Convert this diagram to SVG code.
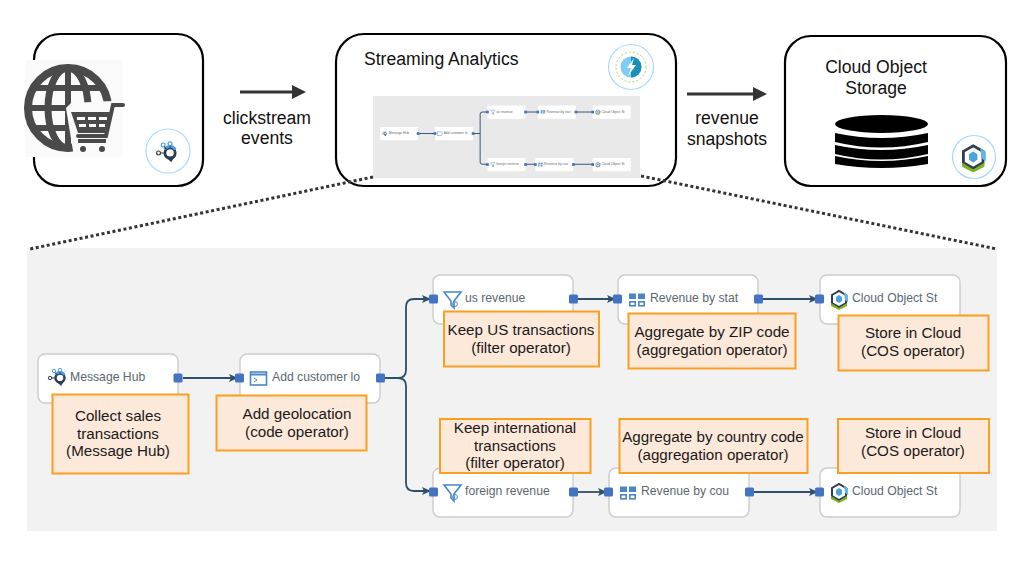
<svg xmlns="http://www.w3.org/2000/svg" xmlns:xlink="http://www.w3.org/1999/xlink" width="1028" height="566" viewBox="0 0 1028 566">
<style>
text{font-family:"Liberation Sans",Arial,sans-serif}
.box{fill:#fff;stroke:#000;stroke-width:2.2}
.t{font-size:17.6px;fill:#111;text-anchor:middle}
.c{font-size:15.2px;fill:#1a1a1a;text-anchor:middle}
.call{fill:#fde9da;stroke:#f9a023;stroke-width:2}
.op{fill:#fff;stroke:#ccc;stroke-width:1.4}
.n{font-size:12.2px;fill:#5a6872}
.port{fill:#4472c4}
.wire{fill:none;stroke:#2f4f6a;stroke-width:1.8}
.flow{stroke:#333;stroke-width:3;fill:none}
.dot{stroke:#333;stroke-width:3;stroke-dasharray:3 2.6;fill:none}
.ico{fill:none;stroke:#4a86c8;stroke-width:1.6}
.badge{fill:#fff;stroke:#a6d8ff;stroke-width:1.2}
.mn{font-size:12.2px;fill:#5a6872}
</style>
<defs>
<marker id="wa" markerWidth="10" markerHeight="10" refX="8" refY="4" orient="auto" markerUnits="userSpaceOnUse"><path d="M0 0L9 4L0 8L2 4Z" fill="#2f4f6a"/></marker>
<marker id="fa" markerWidth="16" markerHeight="16" refX="1" refY="7" orient="auto" markerUnits="userSpaceOnUse"><path d="M0 0L14 7L0 14Z" fill="#333"/></marker>
<g id="i-funnel"><path class="ico" d="M0-7H17L10 2V9L7 6V2Z"/><circle cx="11" cy="5" r="2.4" fill="none" stroke="#4a86c8"/></g>
<g id="i-agg"><g fill="#4a86c8"><rect x="0" y="-6.500" width="7" height="5.500"/><rect x="9" y="-6.500" width="7" height="5.500"/></g><g class="ico"><rect x="0.800" y="1.800" width="5.400" height="4"/><rect x="9.800" y="1.800" width="5.400" height="4"/></g></g>
<g id="i-cos"><path d="M1-4L8-8L15-4V4L8 8L1 4Z" fill="none" stroke="#2d3e50" stroke-width="2"/><path d="M0 4L8 9L16 4V7L8 11L0 7Z" fill="#7ab51d"/><path d="M5-2L8-4L11-2V2L8 4L5 2Z" fill="#4aa3df"/><path d="M13-6L17-4V3L14 1Z" fill="#63b4ec"/></g>
<g id="i-hub"><circle cx="7" cy="0" r="4.500" fill="none" stroke="#2d3e50" stroke-width="2.400"/><path d="M3 3L8 8L11 3Z" fill="#2d3e50"/><path d="M2.600-3A5 5 0 0 1 11.500-3" fill="none" stroke="#4a9fe8" stroke-width="2.400"/><g fill="none" stroke-width="1"><circle cx="1" cy="-7" r="1.700" stroke="#4a9fe8"/><circle cx="7" cy="-8" r="1.700" stroke="#4a9fe8"/><circle cx="-3" cy="0" r="1.700" stroke="#2d3e50"/></g><path d="M-1 0H2M2-5.500L4-3M7-6V-4.500" stroke="#2d3e50" stroke-width="1"/></g>
</defs>

<g id="detail-panel"><rect x="27" y="248" width="970" height="283" fill="#f2f2f2"/></g>

<g id="connectors">
<path class="flow" d="M240 92H293" marker-end="url(#fa)"/>
<path class="flow" d="M687 94H754" marker-end="url(#fa)"/>
<path class="wire" d="M183 378H237" marker-end="url(#wa)"/>
<path class="wire" d="M383 378H398Q406 378 406 370V307Q406 299 414 299H430" marker-end="url(#wa)"/>
<path class="wire" d="M398 378Q406 378 406 386V483Q406 491 414 491H430" marker-end="url(#wa)"/>
<path class="wire" d="M578 299H615" marker-end="url(#wa)"/>
<path class="wire" d="M763 299H817" marker-end="url(#wa)"/>
<path class="wire" d="M578 492H606" marker-end="url(#wa)"/>
<path class="wire" d="M754 492H817" marker-end="url(#wa)"/>
</g>

<g id="source">
<rect class="box" x="34" y="34" width="169" height="152" rx="26"/>
<rect x="25" y="60" width="98" height="97" fill="#fafafa"/>
<g fill="none" stroke="#4a4a4a">
<circle cx="68" cy="108" r="40" stroke-width="8"/>
<ellipse cx="68" cy="108" rx="20" ry="40" stroke-width="7"/>
<path d="M68 68V148M32 88H104M28 108H108M32 128H104" stroke-width="6"/>
</g>
<path d="M66 108L71 103L112 101L123 104V157H74Z" fill="#fafafa"/>
<path d="M123 105H113L106 136H78" fill="none" stroke="#4a4a4a" stroke-width="4" stroke-linecap="round"/>
<path d="M71 112H110L105 133H78Z" fill="#4a4a4a"/>
<path d="M77 117H85V120H77ZM88 117H96V120H88ZM99 117H107V120H99ZM79 124H86V127H79ZM89 124H96V127H89ZM99 124H105V127H99Z" fill="#fafafa"/>
<path d="M78 139H106V143H78Z" fill="#4a4a4a"/>
<circle cx="83" cy="149" r="3" fill="#4a4a4a"/><circle cx="102" cy="149" r="3" fill="#4a4a4a"/>
<circle class="badge" cx="168" cy="151" r="22"/>
<use href="#i-hub" xlink:href="#i-hub" transform="translate(162,153) scale(1.150)"/>
</g>

<g id="streaming">
<rect class="box" x="336" y="34" width="340" height="152" rx="28"/>
<text x="364" y="65" font-size="17.600" fill="#111">Streaming Analytics</text>
<circle class="badge" cx="631" cy="67" r="22.500"/>
<circle cx="631" cy="67" r="15" fill="none" stroke="#a5d67a" stroke-dasharray="2 2"/>
<circle cx="631" cy="67" r="10.500" fill="#7fccf5"/>
<path d="M631 56.500A10.500 10.500 0 0 1 631 77.500Z" fill="#1a8fb8"/>
<path d="M634 58L627 68H631L628 76L636 65H632Z" fill="#fff"/>
<rect x="373" y="96" width="267" height="82" fill="#e9e9e9"/>
<g id="mini" transform="translate(369.700,30.700) scale(0.272)">
<path fill="none" stroke="#2f4f6a" stroke-width="3.500" d="M178 378H240M380 378H406M433 299H414Q406 299 406 307V483Q406 491 414 491H433M573 299H618M758 299H820M573 491H609M749 491H820"/>
<g fill="#fff"><rect x="38" y="354" width="140" height="49" rx="4"/><rect x="240" y="354" width="140" height="49" rx="4"/><rect x="433" y="275" width="140" height="49" rx="4"/><rect x="618" y="275" width="140" height="49" rx="4"/><rect x="820" y="275" width="140" height="49" rx="4"/><rect x="433" y="468" width="140" height="49" rx="4"/><rect x="609" y="468" width="140" height="49" rx="4"/><rect x="820" y="468" width="140" height="49" rx="4"/></g>
<g class="port"><rect x="173" y="373" width="10" height="10"/><rect x="235" y="373" width="10" height="10"/><rect x="375" y="373" width="10" height="10"/><rect x="428" y="294" width="10" height="10"/><rect x="568" y="294" width="10" height="10"/><rect x="613" y="294" width="10" height="10"/><rect x="753" y="294" width="10" height="10"/><rect x="815" y="294" width="10" height="10"/><rect x="428" y="487" width="10" height="10"/><rect x="568" y="487" width="10" height="10"/><rect x="604" y="487" width="10" height="10"/><rect x="744" y="487" width="10" height="10"/><rect x="815" y="487" width="10" height="10"/></g>
<g class="mn">
<text x="70" y="381">Message Hub</text><text x="272" y="381">Add customer lo</text><text x="465" y="302">us revenue</text><text x="650" y="302">Revenue by stat</text><text x="852" y="302">Cloud Object St</text><text x="465" y="495">foreign revenue</text><text x="641" y="495">Revenue by cou</text><text x="852" y="495">Cloud Object St</text>
</g>
<use href="#i-hub" xlink:href="#i-hub" transform="translate(50,379)"/>
<rect class="ico" x="250" y="372" width="16" height="13"/>
<use href="#i-funnel" xlink:href="#i-funnel" transform="translate(444,299)"/>
<use href="#i-agg" xlink:href="#i-agg" transform="translate(629,299)"/>
<use href="#i-cos" xlink:href="#i-cos" transform="translate(831,299)"/>
<use href="#i-funnel" xlink:href="#i-funnel" transform="translate(444,492)"/>
<use href="#i-agg" xlink:href="#i-agg" transform="translate(620,492)"/>
<use href="#i-cos" xlink:href="#i-cos" transform="translate(831,492)"/>
</g>
</g>

<g id="storage">
<rect class="box" x="785" y="36" width="221" height="150" rx="26"/>
<text class="t" x="876" y="73">Cloud Object</text>
<text class="t" x="876" y="94">Storage</text>
<path d="M835 124A46.500 9 0 0 1 928 124A46.500 9 0 0 1 835 124Z" fill="#000"/>
<path d="M835 133Q881 143 928 133V142Q881 153 835 142Z" fill="#000"/>
<path d="M835 145Q881 155 928 145V154Q881 165 835 154Z" fill="#000"/>
<path d="M835 156Q881 166 928 156V164Q881 172 835 164Z" fill="#000"/>
<circle class="badge" cx="974" cy="157" r="21.500"/>
<use href="#i-cos" xlink:href="#i-cos" transform="translate(962,157) scale(1.400)"/>
</g>

<g id="zoom-lines">
<path class="dot" d="M373 177L30 249"/>
<path class="dot" d="M641 176L997 249"/>
</g>

<g id="label-clickstream"><text class="t" x="267" y="124">clickstream</text><text class="t" x="267" y="144">events</text></g>
<g id="label-revenue"><text class="t" x="727" y="124">revenue</text><text class="t" x="727" y="145">snapshots</text></g>

<g id="node-message-hub">
<rect class="op" x="38" y="354" width="140" height="49" rx="7"/>
<use href="#i-hub" xlink:href="#i-hub" transform="translate(53,378)"/>
<text class="n" x="70" y="381">Message Hub</text>
<rect class="port" x="173.500" y="373.500" width="9" height="9" rx="1.500"/>
</g>
<g id="node-add-customer">
<rect class="op" x="240" y="354" width="140" height="49" rx="7"/>
<rect class="ico" x="250.500" y="372" width="16" height="13"/><path d="M250 374.500H267" stroke="#4a86c8" stroke-width="2"/><path d="M254 378L257 380L254 382" fill="none" stroke="#4a86c8"/>
<text class="n" x="272" y="381">Add customer lo</text>
<rect class="port" x="235" y="373.500" width="9" height="9" rx="1.500"/><rect class="port" x="376" y="373.500" width="9" height="9" rx="1.500"/>
</g>
<g id="node-us-revenue">
<rect class="op" x="433" y="275" width="140" height="49" rx="7"/>
<use href="#i-funnel" xlink:href="#i-funnel" transform="translate(444,299)"/>
<text class="n" x="465" y="302">us revenue</text>
<rect class="port" x="429" y="294.500" width="9" height="9" rx="1.500"/><rect class="port" x="569" y="294.500" width="9" height="9" rx="1.500"/>
</g>
<g id="node-revenue-state">
<rect class="op" x="618" y="275" width="140" height="49" rx="7"/>
<use href="#i-agg" xlink:href="#i-agg" transform="translate(629,300)"/>
<text class="n" x="650" y="302">Revenue by stat</text>
<rect class="port" x="613" y="294.500" width="9" height="9" rx="1.500"/><rect class="port" x="754" y="294.500" width="9" height="9" rx="1.500"/>
</g>
<g id="node-cos-1">
<rect class="op" x="820" y="275" width="140" height="49" rx="7"/>
<use href="#i-cos" xlink:href="#i-cos" transform="translate(831,299)"/>
<text class="n" x="852" y="302">Cloud Object St</text>
<rect class="port" x="815" y="294.500" width="9" height="9" rx="1.500"/>
</g>
<g id="node-foreign-revenue">
<rect class="op" x="433" y="468" width="140" height="49" rx="7"/>
<use href="#i-funnel" xlink:href="#i-funnel" transform="translate(444,492)"/>
<text class="n" x="465" y="495">foreign revenue</text>
<rect class="port" x="429" y="487.500" width="9" height="9" rx="1.500"/><rect class="port" x="569" y="487.500" width="9" height="9" rx="1.500"/>
</g>
<g id="node-revenue-country">
<rect class="op" x="609" y="468" width="140" height="49" rx="7"/>
<use href="#i-agg" xlink:href="#i-agg" transform="translate(620,493)"/>
<text class="n" x="641" y="495">Revenue by cou</text>
<rect class="port" x="604" y="487.500" width="9" height="9" rx="1.500"/><rect class="port" x="745" y="487.500" width="9" height="9" rx="1.500"/>
</g>
<g id="node-cos-2">
<rect class="op" x="820" y="468" width="140" height="49" rx="7"/>
<use href="#i-cos" xlink:href="#i-cos" transform="translate(831,492)"/>
<text class="n" x="852" y="495">Cloud Object St</text>
<rect class="port" x="815" y="487.500" width="9" height="9" rx="1.500"/>
</g>

<g id="note-collect"><rect class="call" x="52.500" y="394.500" width="136" height="79"/><text class="c" x="118" y="421">Collect sales</text><text class="c" x="118" y="439">transactions</text><text class="c" x="118" y="456">(Message Hub)</text></g>
<g id="note-geo"><rect class="call" x="216.500" y="395.500" width="150" height="55"/><text class="c" x="297" y="419">Add geolocation</text><text class="c" x="297" y="437">(code operator)</text></g>
<g id="note-us"><rect class="call" x="444" y="311.500" width="155" height="55"/><text class="c" x="521" y="335">Keep US transactions</text><text class="c" x="521" y="353">(filter operator)</text></g>
<g id="note-zip"><rect class="call" x="628.500" y="313.500" width="167" height="55"/><text class="c" x="712" y="337">Aggregate by ZIP code</text><text class="c" x="712" y="355">(aggregation operator)</text></g>
<g id="note-store-1"><rect class="call" x="838.500" y="315.500" width="150" height="55"/><text class="c" x="913" y="338">Store in Cloud</text><text class="c" x="913" y="356">(COS operator)</text></g>
<g id="note-intl"><rect class="call" x="440" y="419" width="150.500" height="54"/><text class="c" x="515" y="433">Keep international</text><text class="c" x="515" y="451">transactions</text><text class="c" x="515" y="468">(filter operator)</text></g>
<g id="note-country"><rect class="call" x="619.500" y="419" width="188" height="54"/><text class="c" x="713" y="442">Aggregate by country code</text><text class="c" x="713" y="460">(aggregation operator)</text></g>
<g id="note-store-2"><rect class="call" x="838" y="419" width="151" height="54"/><text class="c" x="913" y="438">Store in Cloud</text><text class="c" x="913" y="456">(COS operator)</text></g>
</svg>
